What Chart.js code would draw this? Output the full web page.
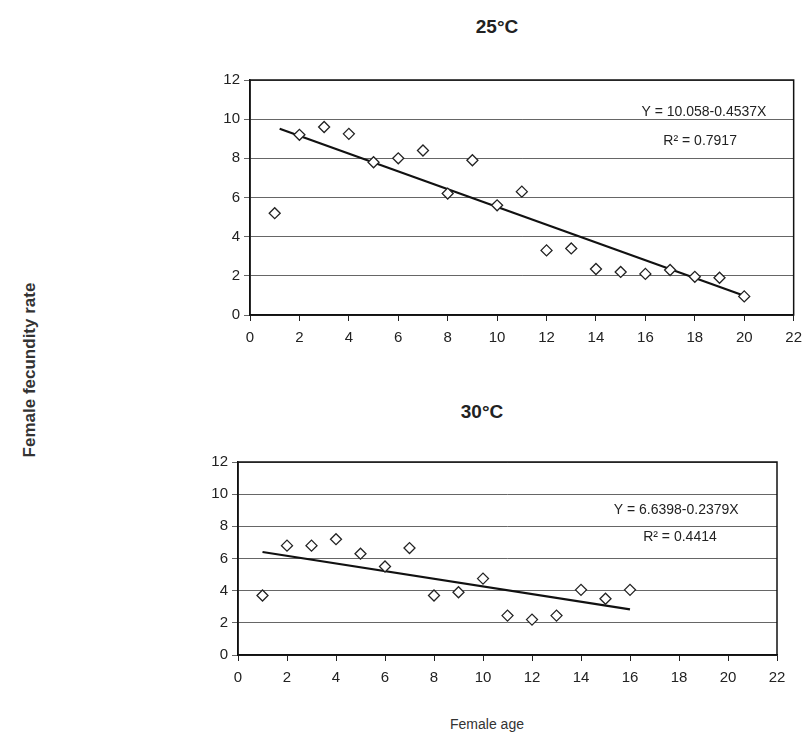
<!DOCTYPE html>
<html>
<head>
<meta charset="utf-8">
<script src="https://cdn.jsdelivr.net/npm/chart.js@4"></script>
<style>
  body { margin: 0; background: #fff; width: 810px; height: 737px; position: relative; overflow: hidden;
         font-family: "Liberation Sans", Arial, sans-serif; color: #222; }
  .box { position: absolute; }
  .title { position: absolute; font-weight: bold; font-size: 19px; transform: translateX(-50%); }
  .ytitle { position: absolute; left: 30px; top: 370px; font-weight: bold; font-size: 17px;
            transform: translate(-50%, -50%) rotate(-90deg); white-space: nowrap; color: #333; }
  .xtitle { position: absolute; left: 487px; top: 716px; font-size: 14px; transform: translateX(-50%); color: #333; }
</style>
</head>
<body>
<div class="title" style="left:497px; top:16px;">25°C</div>
<div class="title" style="left:482px; top:401px;">30°C</div>
<div class="ytitle">Female fecundity rate</div>
<div class="xtitle">Female age</div>

<div class="box" style="left:200px; top:60px; width:610px; height:300px;"><canvas id="chart25"></canvas></div>
<div class="box" style="left:190px; top:440px; width:620px; height:260px;"><canvas id="chart30"></canvas></div>

<script>
// 25 °C data
const age25 = [1, 2, 3, 4, 5, 6, 7, 8, 9, 10, 11, 12, 13, 14, 15, 16, 17, 18, 19, 20];
const fec25 = [5.2, 9.2, 9.6, 9.25, 7.8, 8.0, 8.4, 6.2, 7.9, 5.6, 6.3, 3.3, 3.4, 2.35, 2.2, 2.1, 2.3, 1.95, 1.9, 0.95];
const fit25 = { a: 10.058, b: -0.4537, from: 1.2, to: 20 };
const eq25 = ['Y = 10.058-0.4537X', 'R² = 0.7917'];

// 30 °C data
const age30 = [1, 2, 3, 4, 5, 6, 7, 8, 9, 10, 11, 12, 13, 14, 15, 16];
const fec30 = [3.7, 6.8, 6.8, 7.2, 6.3, 5.5, 6.65, 3.7, 3.9, 4.75, 2.45, 2.2, 2.45, 4.05, 3.5, 4.05];
const fit30 = { a: 6.6398, b: -0.2379, from: 1, to: 16 };
const eq30 = ['Y = 6.6398-0.2379X', 'R² = 0.4414'];

const xTicks = [0, 2, 4, 6, 8, 10, 12, 14, 16, 18, 20, 22];
const yTicks = [0, 2, 4, 6, 8, 10, 12];

const tickFont = { family: '"Liberation Sans", Arial, sans-serif', size: 15 };

// box around plot area + regression text
const framePlugin = {
  id: 'frame',
  afterDraw(chart, args, opts) {
    const a = chart.chartArea;
    const ctx = chart.ctx;
    ctx.save();
    ctx.strokeStyle = '#111';
    ctx.lineWidth = 1.5;
    ctx.strokeRect(a.left, a.top, a.right - a.left, a.bottom - a.top);
    ctx.fillStyle = '#222';
    ctx.font = '14px "Liberation Sans", Arial, sans-serif';
    ctx.textAlign = 'center';
    ctx.textBaseline = 'middle';
    opts.lines.forEach(function(txt, i) {
      const p = opts.pos[i];
      ctx.fillText(txt, a.left + p[0] * (a.right - a.left), a.top + p[1] * (a.bottom - a.top));
    });
    ctx.restore();
  }
};

function makeChart(id, ages, values, fit, eq, eqPos, pad) {
  const points = ages.map(function(x, i) { return { x: x, y: values[i] }; });
  const line = [fit.from, fit.to].map(function(x) { return { x: x, y: fit.a + fit.b * x }; });
  return new Chart(document.getElementById(id), {
    type: 'scatter',
    data: {
      datasets: [{
        data: points,
        pointStyle: 'rectRot',
        pointRadius: 5.5,
        pointBackgroundColor: '#fff',
        pointBorderColor: '#222',
        pointBorderWidth: 1.3,
        order: 1
      }, {
        type: 'line',
        data: line,
        borderColor: '#111',
        borderWidth: 2.2,
        pointRadius: 0,
        fill: false,
        order: 2
      }]
    },
    plugins: [framePlugin],
    options: {
      responsive: true,
      maintainAspectRatio: false,
      animation: false,
      layout: { padding: pad },
      plugins: {
        legend: { display: false },
        tooltip: { enabled: false },
        frame: { lines: eq, pos: eqPos }
      },
      scales: {
        x: {
          type: 'linear',
          min: 0, max: 22,
          afterBuildTicks: function(s) { s.ticks = xTicks.map(function(v) { return { value: v }; }); },
          afterFit: function(s) { s.height = 35; },
          grid: { drawOnChartArea: false, drawTicks: true, tickLength: 6, color: '#222' },
          border: { color: '#111', width: 1.5 },
          ticks: { color: '#222', font: tickFont, padding: 8, maxRotation: 0 }
        },
        y: {
          min: 0, max: 12,
          afterBuildTicks: function(s) { s.ticks = yTicks.map(function(v) { return { value: v }; }); },
          afterFit: function(s) { s.width = 40; },
          grid: { color: '#666', lineWidth: 1, tickLength: 6 },
          border: { color: '#111', width: 1.5 },
          ticks: { color: '#222', font: tickFont, padding: 4 }
        }
      }
    }
  });
}

makeChart('chart25', age25, fec25, fit25, eq25, [[0.835, 0.135], [0.828, 0.26]],
  { left: 10, top: 20, right: 13, bottom: 10 });
makeChart('chart30', age30, fec30, fit30, eq30, [[0.813, 0.25], [0.82, 0.39]],
  { left: 8, top: 22, right: 33, bottom: 10 });
</script>
</body>
</html>
